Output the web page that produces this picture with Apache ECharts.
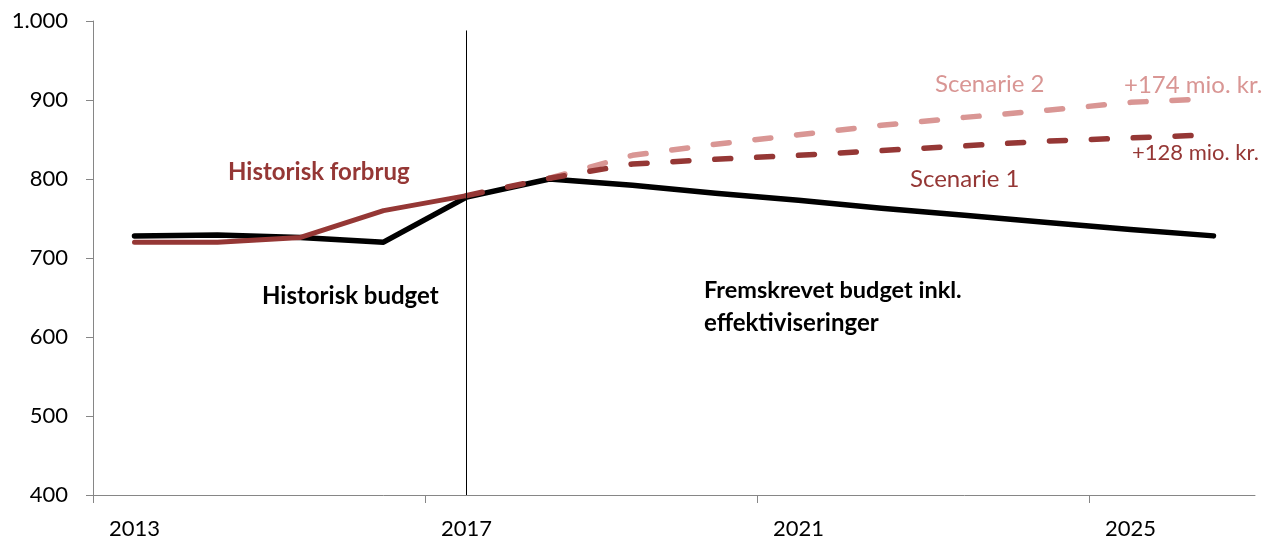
<!DOCTYPE html>
<html>
<head>
<meta charset="utf-8">
<script src="https://cdn.jsdelivr.net/npm/echarts@6/dist/echarts.min.js"></script>
<style>
  html, body { margin: 0; padding: 0; background: #fff; }
  #chart { width: 1268px; height: 540px; }
</style>
</head>
<body>
<div id="chart"></div>
<script>
// Years on the category axis
const years = ['2013','2014','2015','2016','2017','2018','2019','2020','2021','2022','2023','2024','2025','2026'];

// Budget: historical 2013-2017, then projected incl. efficiency gains (mio. kr.)
const budget = [728, 729, 726, 720, 777, 800, 792, 782, 773, 763, 754, 745, 736, 728];

// Historical spending 2013-2017
const spending = [720, 720, 726, 760, 779, null, null, null, null, null, null, null, null, null];

// Scenario 1 and scenario 2 spending projections
const scenario1 = [null, null, null, null, 779, 801, 819, 825, 830, 836, 842, 848, 852, 856];
const scenario2 = [null, null, null, null, null, 801, 830, 844, 856, 868, 878, 887, 897, 902];

// Y axis range and step
const yMin = 400, yMax = 1000, yStep = 100;

// Band edges between the year categories (used for the tick marks only)
const bandEdges = years.map((y, i) => i).concat([years.length]);

const DARK_RED = '#953735';
const PINK = '#d99694';
const FONT = 'Lato';
const DASH = [16, 25.9];

const last = years.length - 1;
const gap1 = scenario1[last] - budget[last];
const gap2 = scenario2[last] - budget[last];

const chart = echarts.init(document.getElementById('chart'), null, { renderer: 'canvas' });

function txt(text, x, y, color, size, weight) {
  return {
    type: 'text', x: x, y: y, z: 100,
    style: {
      text: text, fill: color,
      font: (weight || 'normal') + ' ' + size + 'px ' + FONT,
      align: 'left', verticalAlign: 'middle'
    }
  };
}

chart.setOption({
  animation: false,
  backgroundColor: '#fff',
  textStyle: { fontFamily: FONT },
  grid: { left: 93, right: 13, top: 21, bottom: 44, containLabel: false },
  xAxis: [
    {
      type: 'category',
      data: years,
      position: 'bottom',
      boundaryGap: true,
      axisLine: { lineStyle: { color: '#868686', width: 1 } },
      axisTick: { show: false },
      axisLabel: { interval: 3, margin: 23, fontSize: 22, color: '#000', fontFamily: FONT },
      splitLine: { show: false }
    },
    {
      // tick marks on the band edges, every fourth year
      type: 'category',
      data: bandEdges,
      position: 'bottom',
      boundaryGap: false,
      axisLine: { show: false },
      axisTick: { show: true, interval: 3, length: 8, lineStyle: { color: '#868686' } },
      axisLabel: { show: false },
      splitLine: { show: false }
    }
  ],
  yAxis: {
    type: 'value',
    min: yMin, max: yMax, interval: yStep,
    axisLine: { show: true, lineStyle: { color: '#868686', width: 1 } },
    axisTick: { show: true, length: 7, lineStyle: { color: '#868686' } },
    axisLabel: {
      margin: 25, fontSize: 22, color: '#000', fontFamily: FONT,
      formatter: v => v >= 1000 ? Math.floor(v / 1000) + '.' + String(v % 1000).padStart(3, '0') : String(v)
    },
    splitLine: { show: false }
  },
  series: [
    {
      name: 'Budget',
      type: 'line',
      xAxisIndex: 0,
      data: budget,
      symbol: 'none',
      z: 2,
      lineStyle: { color: '#000', width: 5.5, cap: 'round', join: 'round' },
      markLine: {
        silent: true,
        symbol: 'none',
        label: { show: false },
        lineStyle: { color: '#000', width: 1, type: 'solid' },
        data: [[{ coord: ['2017', 988] }, { coord: ['2017', yMin] }]]
      }
    },
    {
      name: 'Historisk forbrug',
      type: 'line',
      xAxisIndex: 0,
      data: spending,
      symbol: 'none',
      z: 3,
      lineStyle: { color: DARK_RED, width: 5, cap: 'round', join: 'round' }
    },
    {
      name: 'Scenarie 2',
      type: 'line',
      xAxisIndex: 0,
      data: scenario2,
      symbol: 'none',
      z: 3,
      lineStyle: { color: PINK, width: 5.5, type: DASH, cap: 'round', join: 'round' }
    },
    {
      name: 'Scenarie 1',
      type: 'line',
      xAxisIndex: 0,
      data: scenario1,
      symbol: 'none',
      z: 4,
      lineStyle: { color: DARK_RED, width: 5.5, type: DASH, cap: 'round', join: 'round' }
    }
  ],
  graphic: [
    txt('Historisk forbrug', 228, 172, DARK_RED, 24, 'bold'),
    txt('Historisk budget', 262, 296, '#000', 24, 'bold'),
    txt('Fremskrevet budget inkl.', 704, 290, '#000', 23.5, 'bold'),
    txt('effektiviseringer', 704, 323, '#000', 24, 'bold'),
    txt('Scenarie 2', 935, 84, PINK, 24),
    txt('+' + gap2 + ' mio. kr.', 1124, 85, PINK, 24),
    txt('Scenarie 1', 910, 179, DARK_RED, 24),
    txt('+' + gap1 + ' mio. kr.', 1132, 153, DARK_RED, 22)
  ]
});
</script>
</body>
</html>
